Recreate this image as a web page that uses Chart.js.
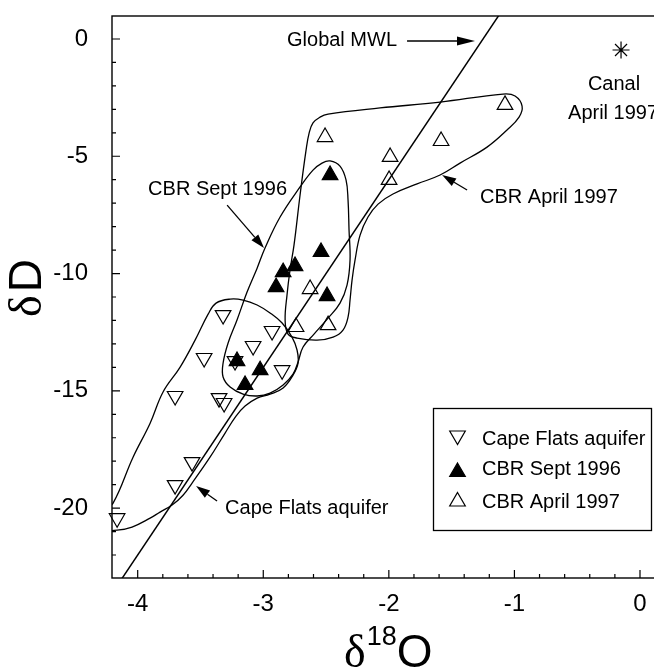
<!DOCTYPE html>
<html>
<head>
<meta charset="utf-8">
<script src="https://cdn.jsdelivr.net/npm/chart.js@4/dist/chart.umd.min.js"></script>
<style>
html,body{margin:0;padding:0;background:#fff;}
#wrap{width:654px;height:670px;position:relative;overflow:hidden;}
canvas{display:block;}
</style>
</head>
<body>
<div id="wrap"><canvas id="c" width="654" height="670"></canvas></div>
<script>
// ---- tick values ----
const xTicks = [-4, -3, -2, -1, 0];
const yTicks = [0, -5, -10, -15, -20];

// ---- series (δ18O, δD) ----
const capeFlatsX = [-3.320, -2.930, -3.081, -3.471, -3.225, -2.850, -3.702, -3.352, -3.312, -3.567, -3.702, -4.164];
const capeFlatsY = [-11.77, -12.45, -13.09, -13.60, -13.73, -14.12, -15.22, -15.31, -15.52, -18.04, -19.02, -20.43];

const sept96X = [-2.468, -2.540, -2.747, -2.842, -2.898, -2.492, -3.209, -3.025, -3.145];
const sept96Y = [-5.80, -9.08, -9.68, -9.94, -10.58, -10.96, -13.73, -14.12, -14.75];

const april97X = [-2.508, -2.627, -2.739, -2.484, -1.075, -1.584, -1.990, -1.998];
const april97Y = [-4.18, -10.66, -12.28, -12.20, -2.81, -4.35, -5.03, -6.01];

const canalX = [-0.151];
const canalY = [-0.47];

// Global meteoric water line end points (δD = 8·δ18O + 10)
const mwlX = [-4.5, -1.0];
const mwlY = [-26.0, 2.0];

// ---- hand-drawn envelopes (outline vertices) ----
const capeFlatsEnvelope = [
  [-4.196,-19.79],[-4.037,-17.83],[-3.901,-16.38],[-3.798,-15.05],[-3.662,-13.99],[-3.543,-12.84],
  [-3.439,-11.73],[-3.376,-11.26],[-3.264,-11.09],[-3.161,-11.13],[-3.049,-11.34],[-2.946,-11.68],
  [-2.850,-12.11],[-2.771,-12.71],[-2.731,-13.26],[-2.723,-13.82],[-2.763,-14.33],[-2.842,-14.88],
  [-2.946,-15.14],[-3.049,-15.31],[-3.145,-15.65],[-3.217,-16.08],[-3.304,-16.80],[-3.424,-17.83],
  [-3.567,-18.93],[-3.639,-19.45],[-3.726,-19.87],[-3.822,-20.17],[-3.901,-20.43],[-4.045,-20.81],
  [-4.164,-20.94],[-4.268,-20.90],[-4.299,-20.43],[-4.268,-20.04]
];
const sept96Envelope = [
  [-2.468,-5.20],[-2.389,-5.42],[-2.341,-6.01],[-2.325,-6.86],[-2.317,-8.14],[-2.309,-9.42],
  [-2.333,-10.49],[-2.389,-11.26],[-2.484,-11.90],[-2.596,-12.58],[-2.683,-13.13],[-2.723,-13.77],
  [-2.763,-14.29],[-2.842,-14.75],[-2.946,-15.10],[-3.049,-15.22],[-3.161,-15.14],[-3.264,-14.84],
  [-3.320,-14.41],[-3.320,-13.82],[-3.280,-12.96],[-3.209,-11.98],[-3.129,-10.79],[-3.049,-9.77],
  [-2.986,-8.91],[-2.866,-7.59],[-2.707,-6.31],[-2.604,-5.59],[-2.532,-5.29]
];
const april97Envelope = [
  [-2.604,-3.58],[-2.548,-3.33],[-2.484,-3.20],[-2.070,-2.94],[-1.592,-2.69],[-1.091,-2.35],
  [-0.995,-2.43],[-0.939,-2.86],[-0.963,-3.33],[-1.059,-3.88],[-1.218,-4.61],[-1.433,-5.29],
  [-1.592,-5.80],[-1.775,-6.18],[-1.967,-6.61],[-2.086,-7.04],[-2.166,-7.59],[-2.229,-8.36],
  [-2.269,-9.42],[-2.293,-10.28],[-2.309,-11.13],[-2.325,-11.86],[-2.365,-12.41],[-2.444,-12.71],
  [-2.572,-12.84],[-2.731,-12.75],[-2.803,-12.58],[-2.826,-11.98],[-2.811,-10.92],[-2.787,-9.85],
  [-2.755,-8.78],[-2.707,-6.65],[-2.659,-4.73],[-2.635,-4.01]
];

// ---- labels ----
const legendLabels = ['Cape Flats aquifer', 'CBR Sept 1996', 'CBR April 1997'];

const SANS = "'Liberation Sans', Arial, Helvetica, sans-serif";
const SERIF = "'Liberation Serif', 'Times New Roman', serif";

function zip(xs, ys) { return xs.map((v, i) => ({x: v, y: ys[i]})); }
function closedLoop(pts) {
  const seq = [pts[pts.length - 1], ...pts, pts[0], pts[1]];
  return seq.map(p => ({x: p[0], y: p[1]}));
}
function envelopeDataset(label, pts) {
  const data = closedLoop(pts);
  const n = data.length;
  return {
    type: 'line', label, data,
    borderColor: '#000', borderWidth: 1.3, pointRadius: 0, pointHoverRadius: 0,
    fill: false, tension: 0.4, capBezierPoints: false,
    segment: {
      borderColor: ctx => (ctx.p0DataIndex === 0 || ctx.p1DataIndex === n - 1) ? 'rgba(0,0,0,0)' : undefined
    }
  };
}
function markerDataset(label, xs, ys, style, rotation, fill, radius) {
  return {
    label, data: zip(xs, ys), showLine: false, clip: false,
    pointStyle: style, pointRotation: rotation, pointRadius: radius, pointHoverRadius: radius,
    pointBackgroundColor: fill, pointBorderColor: '#000', pointBorderWidth: 1.2,
    backgroundColor: fill, borderColor: '#000'
  };
}

function triPath(ctx, cx, cy, r, down) {
  ctx.beginPath();
  for (let k = 0; k < 3; k++) {
    const ang = (down ? Math.PI : 0) + k * 2 * Math.PI / 3;
    const px = cx + Math.sin(ang) * r, py = cy - Math.cos(ang) * r;
    if (k) ctx.lineTo(px, py); else ctx.moveTo(px, py);
  }
  ctx.closePath();
}

function arrow(ctx, x1, y1, x2, y2, headLen, headHalf) {
  const ang = Math.atan2(y2 - y1, x2 - x1);
  const bx = x2 - Math.cos(ang) * headLen, by = y2 - Math.sin(ang) * headLen;
  ctx.beginPath(); ctx.moveTo(x1, y1); ctx.lineTo(bx, by); ctx.stroke();
  ctx.beginPath();
  ctx.moveTo(x2, y2);
  ctx.lineTo(bx + Math.sin(ang) * headHalf, by - Math.cos(ang) * headHalf);
  ctx.lineTo(bx - Math.sin(ang) * headHalf, by + Math.cos(ang) * headHalf);
  ctx.closePath(); ctx.fill();
}

const decor = {
  id: 'decor',
  afterDraw(chart) {
    const {ctx, chartArea: a, scales: {x, y}} = chart;
    const X = v => x.getPixelForValue(v), Y = v => y.getPixelForValue(v);
    ctx.save();
    ctx.strokeStyle = '#000'; ctx.fillStyle = '#000';
    // frame
    ctx.lineWidth = 1.4;
    ctx.strokeRect(a.left, a.top, a.right - a.left + 4, a.bottom - a.top);
    // inward ticks
    ctx.lineWidth = 1.2;
    ctx.beginPath();
    for (let i = -21; i <= 0; i++) {
      const v = i / 5, px = X(v);
      if (px < a.left + 1 || px > a.right - 1) continue;
      const major = xTicks.includes(Math.round(v * 1000) / 1000);
      ctx.moveTo(px, a.bottom); ctx.lineTo(px, a.bottom - (major ? 8 : 4));
    }
    for (let v = -22; v <= 0; v++) {
      const py = Y(v);
      const major = yTicks.includes(v);
      ctx.moveTo(a.left, py); ctx.lineTo(a.left + (major ? 8 : 4), py);
    }
    ctx.stroke();

    // annotations
    ctx.font = '20px ' + SANS;
    ctx.textBaseline = 'middle';
    ctx.textAlign = 'left';
    ctx.fillText('Global MWL', X(-2.811), Y(-0.085));
    ctx.fillText('CBR Sept 1996', X(-3.917), Y(-6.40));
    ctx.fillText('CBR April 1997', X(-1.274), Y(-6.74));
    ctx.fillText('Cape Flats aquifer', X(-3.304), Y(-20.0));
    ctx.textAlign = 'center';
    ctx.fillText('Canal', X(-0.207), Y(-1.96));
    ctx.textAlign = 'left';
    ctx.fillText('April 1997', X(-0.573), Y(-3.16));

    ctx.lineWidth = 1.3;
    arrow(ctx, X(-1.855), Y(-0.085), X(-1.314), Y(-0.085), 18, 4.5);
    arrow(ctx, X(-3.288), Y(-7.08), X(-2.994), Y(-8.91), 14, 4.5);
    arrow(ctx, X(-1.377), Y(-6.44), X(-1.576), Y(-5.80), 14, 4.5);
    arrow(ctx, X(-3.368), Y(-19.70), X(-3.535), Y(-19.06), 14, 4.5);

    // legend box
    const lx = 433, ly = 408, lw = 218, lh = 122;
    ctx.fillStyle = '#fff';
    ctx.fillRect(lx, ly, lw, lh);
    ctx.fillStyle = '#000';
    ctx.lineWidth = 1.3;
    ctx.strokeRect(lx + 0.5, ly + 0.5, lw, lh);
    const rowsText = [439.5, 469.5, 502.5];
    const rowsMark = [435.5, 472, 501.5];
    ctx.lineWidth = 1.2;
    triPath(ctx, 457.5, rowsMark[0], 9, true); ctx.stroke();
    triPath(ctx, 457.5, rowsMark[1], 9, false); ctx.fill(); ctx.stroke();
    triPath(ctx, 457.5, rowsMark[2], 9, false); ctx.stroke();
    ctx.font = '20px ' + SANS;
    ctx.textAlign = 'left'; ctx.textBaseline = 'middle';
    legendLabels.forEach((t, i) => ctx.fillText(t, 482, rowsText[i]));

    // x axis title δ18O
    ctx.textBaseline = 'alphabetic';
    ctx.textAlign = 'left';
    let tx = 344; const base = 667;
    ctx.font = '46px ' + SERIF;
    ctx.fillText('δ', tx, base); tx += ctx.measureText('δ').width + 1;
    ctx.font = '27px ' + SANS;
    ctx.fillText('18', tx, base - 22); tx += ctx.measureText('18').width;
    ctx.font = '46px ' + SANS;
    ctx.fillText('O', tx, base);

    // y axis title δD
    ctx.save();
    ctx.translate(41, 288);
    ctx.rotate(-Math.PI / 2);
    ctx.textAlign = 'left';
    ctx.textBaseline = 'alphabetic';
    ctx.font = '46px ' + SERIF;
    const wd = ctx.measureText('δ').width + 3;
    ctx.font = '46px ' + SANS;
    const wD = ctx.measureText('D').width;
    const start = -(wd + wD) / 2;
    ctx.font = '46px ' + SERIF;
    ctx.fillText('δ', start, 0);
    ctx.font = '46px ' + SANS;
    ctx.fillText('D', start + wd, 0);
    ctx.restore();

    ctx.restore();
  }
};

new Chart(document.getElementById('c'), {
  type: 'scatter',
  data: {
    datasets: [
      markerDataset('Cape Flats aquifer', capeFlatsX, capeFlatsY, 'triangle', 180, 'rgba(0,0,0,0)', 9),
      markerDataset('CBR Sept 1996', sept96X, sept96Y, 'triangle', 0, '#000', 9),
      markerDataset('CBR April 1997', april97X, april97Y, 'triangle', 0, 'rgba(0,0,0,0)', 9),
      markerDataset('Canal April 1997', canalX, canalY, 'star', 0, 'rgba(0,0,0,0)', 8.5),
      {type: 'line', label: 'Global MWL', data: zip(mwlX, mwlY), borderColor: '#000', borderWidth: 1.5,
       pointRadius: 0, pointHoverRadius: 0, fill: false, tension: 0},
      envelopeDataset('Cape Flats envelope', capeFlatsEnvelope),
      envelopeDataset('CBR Sept 1996 envelope', sept96Envelope),
      envelopeDataset('CBR April 1997 envelope', april97Envelope)
    ]
  },
  options: {
    responsive: false,
    devicePixelRatio: 1,
    animation: false,
    events: [],
    layout: {autoPadding: false, padding: {top: 16, left: 0, right: 0, bottom: 0}},
    plugins: {legend: {display: false}, tooltip: {enabled: false}},
    scales: {
      x: {
        type: 'linear', min: -4.2046, max: 0.1115,
        afterBuildTicks: s => { s.ticks = xTicks.map(v => ({value: v})); },
        afterFit: s => { s.height = 92; s.paddingLeft = 0; s.paddingRight = 0; },
        grid: {display: false, drawTicks: false},
        border: {display: false},
        ticks: {color: '#000', font: {family: SANS, size: 24}, padding: 12, callback: v => String(v)}
      },
      y: {
        type: 'linear', min: -22.98, max: 0.98,
        afterBuildTicks: s => { s.ticks = yTicks.map(v => ({value: v})); },
        afterFit: s => { s.width = 112; s.paddingTop = 0; s.paddingBottom = 0; },
        grid: {display: false, drawTicks: false},
        border: {display: false},
        ticks: {color: '#000', font: {family: SANS, size: 24}, padding: 24, callback: v => String(v)}
      }
    }
  },
  plugins: [decor]
});
</script>
</body>
</html>
